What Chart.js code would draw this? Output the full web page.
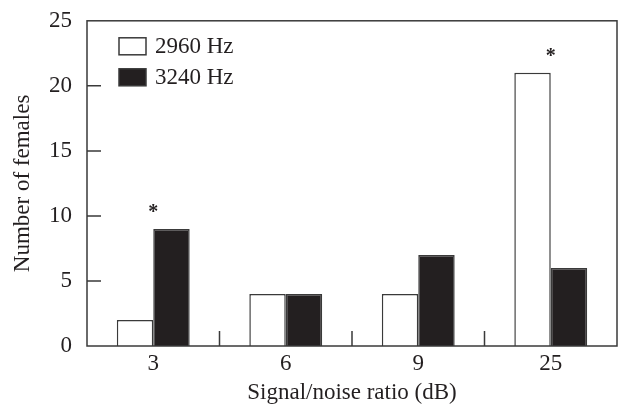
<!DOCTYPE html>
<html>
<head>
<meta charset="utf-8">
<script src="https://cdn.jsdelivr.net/npm/chart.js@4/dist/chart.umd.min.js"></script>
<style>
html,body{margin:0;padding:0;background:#fff;}
#wrap{position:relative;width:621px;height:405px;}
</style>
</head>
<body>
<div id="wrap"><canvas id="c" width="621" height="405"></canvas></div>
<script>
const categories = ['3', '6', '9', '25'];
const seriesNames = ['2960 Hz', '3240 Hz'];
const hz2960 = [2, 4, 4, 21];
const hz3240 = [9, 4, 7, 6];
const significant = [true, false, false, true];
const yMin = 0, yMax = 25, yStep = 5;

const INK = '#231f20';
const EDGE = '#3a3a3a';
const FONT = 'Liberation Serif';
const FS = 23;

const framePlugin = {
  id: 'frame',
  afterDatasetsDraw(chart) {
    const {ctx, chartArea: a, scales} = chart;
    ctx.save();
    ctx.strokeStyle = EDGE;
    ctx.lineWidth = 1.5;
    ctx.strokeRect(a.left, a.top, a.right - a.left, a.bottom - a.top);
    ctx.beginPath();
    scales.y.ticks.forEach(t => {
      if (t.value === yMin || t.value === yMax) return;
      const y = scales.y.getPixelForValue(t.value);
      ctx.moveTo(a.left, y); ctx.lineTo(a.left + 14, y);
    });
    for (let i = 0; i < categories.length - 1; i++) {
      const x = (scales.x.getPixelForValue(i) + scales.x.getPixelForValue(i + 1)) / 2;
      ctx.moveTo(x, a.bottom); ctx.lineTo(x, a.bottom - 15);
    }
    ctx.stroke();
    ctx.fillStyle = INK;
    ctx.font = 'bold 20px "' + FONT + '"';
    ctx.textAlign = 'center';
    ctx.textBaseline = 'alphabetic';
    significant.forEach((s, i) => {
      if (!s) return;
      const top = scales.y.getPixelForValue(Math.max(hz2960[i], hz3240[i]));
      ctx.fillText('*', scales.x.getPixelForValue(i), top - 11);
    });
    const fills = ['#ffffff', INK];
    ctx.font = FS + 'px "' + FONT + '"';
    ctx.textAlign = 'left';
    ctx.textBaseline = 'middle';
    seriesNames.forEach((n, i) => {
      const bx = a.left + 32, by = a.top + 17 + i * 31;
      ctx.fillStyle = fills[i];
      ctx.fillRect(bx, by, 27, 17);
      ctx.strokeStyle = EDGE;
      ctx.lineWidth = 1.5;
      ctx.strokeRect(bx, by, 27, 17);
      ctx.fillStyle = INK;
      ctx.fillText(n, bx + 36, by + 9);
    });
    ctx.restore();
  }
};

new Chart(document.getElementById('c'), {
  type: 'bar',
  data: {
    labels: categories,
    datasets: [
      { label: seriesNames[0], data: hz2960, backgroundColor: '#ffffff', borderColor: EDGE, borderWidth: 1.5 },
      { label: seriesNames[1], data: hz3240, backgroundColor: INK, borderColor: EDGE, borderWidth: 1.5 }
    ]
  },
  options: {
    responsive: false,
    animation: false,
    devicePixelRatio: 1,
    layout: { padding: { top: 16, right: 4, left: 0, bottom: 0 } },
    datasets: { bar: { categoryPercentage: 0.55, barPercentage: 1.0 } },
    plugins: { legend: { display: false }, tooltip: { enabled: false } },
    scales: {
      x: {
        grid: { display: false },
        border: { display: false },
        ticks: { color: INK, font: { family: FONT, size: FS }, padding: -4 },
        title: { display: true, text: 'Signal/noise ratio (dB)', color: INK, font: { family: FONT, size: FS }, padding: { top: 0, bottom: -2 } },
        afterFit(s) { s.height = 59; }
      },
      y: {
        min: yMin, max: yMax,
        grid: { display: false },
        border: { display: false },
        ticks: { stepSize: yStep, color: INK, font: { family: FONT, size: FS }, padding: 7 },
        title: { display: true, text: 'Number of females', color: INK, font: { family: FONT, size: FS }, padding: { top: 9, bottom: 0 } },
        afterFit(s) { s.width = 87; }
      }
    }
  },
  plugins: [framePlugin]
});
</script>
</body>
</html>
